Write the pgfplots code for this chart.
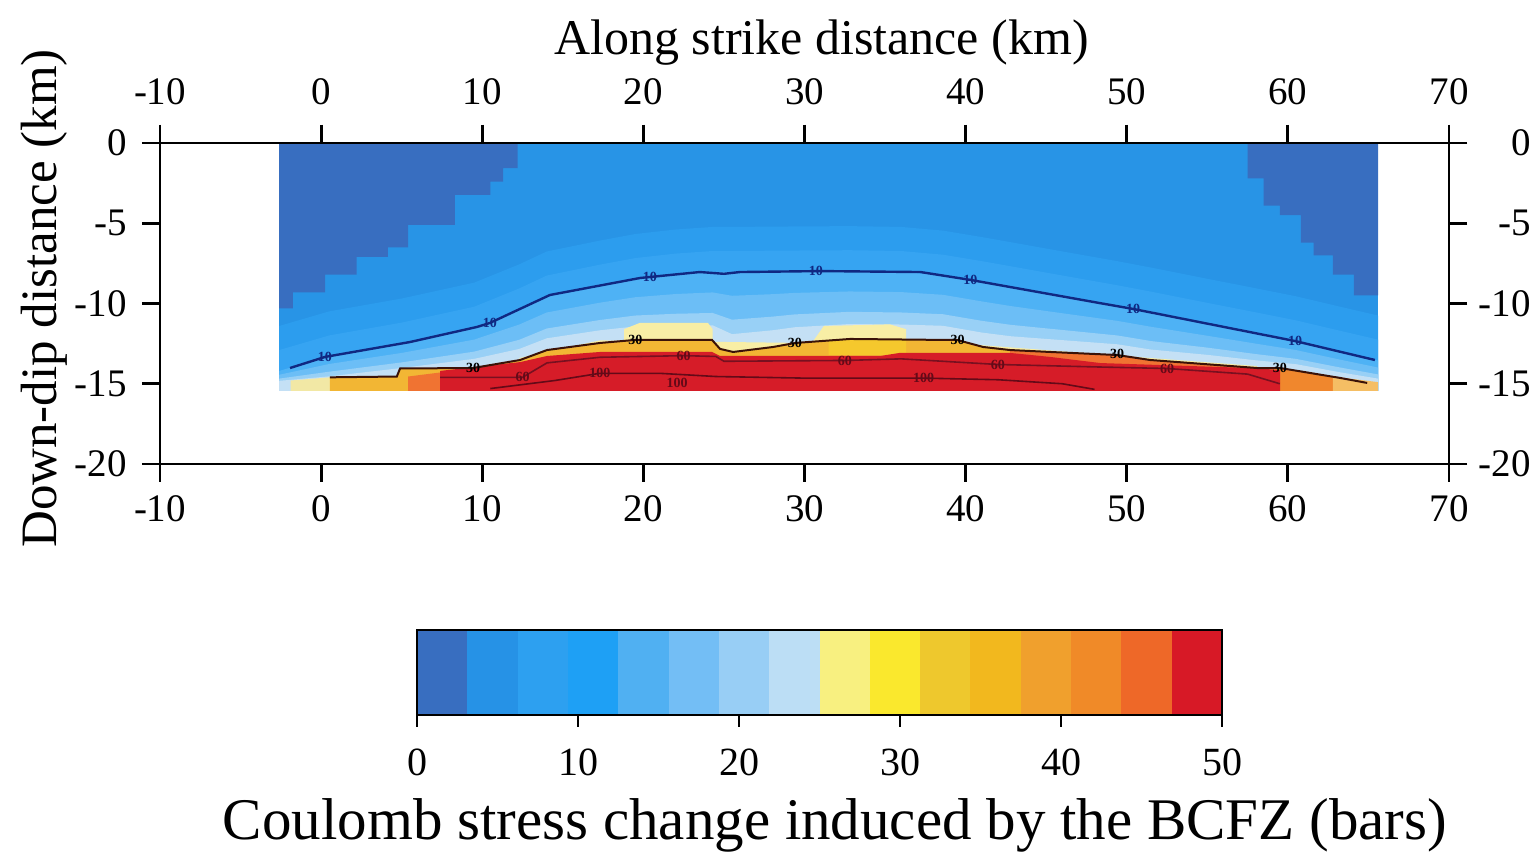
\documentclass[border=0pt]{standalone}
\usepackage{fontspec}
\setmainfont{Liberation Serif}
\usepackage{pgfplots}
\pgfplotsset{compat=1.18}
\definecolor{fbase}{RGB}{40,148,230}
\definecolor{fb1}{RGB}{44,157,238}
\definecolor{fb2}{RGB}{54,164,242}
\definecolor{fb3}{RGB}{78,178,245}
\definecolor{fb4}{RGB}{108,190,246}
\definecolor{fb5}{RGB}{152,208,246}
\definecolor{fb6}{RGB}{196,224,245}
\definecolor{fdark}{RGB}{56,110,192}
\definecolor{fyel}{RGB}{248,238,165}
\definecolor{foy}{RGB}{242,182,52}
\definecolor{fbrt}{RGB}{245,200,45}
\definecolor{fredor}{RGB}{240,115,50}
\definecolor{fred}{RGB}{214,28,40}
\definecolor{fpale}{RGB}{242,232,165}
\definecolor{fror}{RGB}{240,135,45}
\definecolor{flor}{RGB}{245,190,100}
\definecolor{cten}{RGB}{16,40,130}
\definecolor{cthirty}{RGB}{58,18,8}
\definecolor{csixty}{RGB}{120,16,32}
\definecolor{chund}{RGB}{100,10,24}
\definecolor{cb1}{RGB}{56,110,192}
\definecolor{cb2}{RGB}{38,146,230}
\definecolor{cb3}{RGB}{45,160,240}
\definecolor{cb4}{RGB}{30,160,245}
\definecolor{cb5}{RGB}{80,176,242}
\definecolor{cb6}{RGB}{115,190,245}
\definecolor{cb7}{RGB}{152,206,245}
\definecolor{cb8}{RGB}{188,222,245}
\definecolor{cb9}{RGB}{248,240,128}
\definecolor{cb10}{RGB}{250,232,45}
\definecolor{cb11}{RGB}{238,200,45}
\definecolor{cb12}{RGB}{242,184,30}
\definecolor{cb13}{RGB}{240,160,45}
\definecolor{cb14}{RGB}{240,138,40}
\definecolor{cb15}{RGB}{238,104,40}
\definecolor{cb16}{RGB}{215,25,38}
\pgfplotsset{
  frame/.style={
    scale only axis, width=644.5pt, height=160.5pt,
    at={(0pt,0pt)}, anchor=south west,
    xmin=-10, xmax=70, ymin=-20, ymax=0,
    xtick={-10,0,...,70}, ytick={-20,-15,...,0},
    tick align=outside, xtick pos=both, ytick pos=both,
    major tick length=9pt,
    axis line style={line width=1.4pt},
    every tick/.style={black, line width=1.4pt},
    tick label style={font=\fontsize{19.5}{19.5}\selectfont, inner sep=1pt},
    /pgf/number format/assume math mode=true,
  },
}
\newcommand{\clab}[4]{\node[font=\fontsize{7}{7}\selectfont\bfseries, text=#1, inner sep=0pt] at (axis cs:#2,#3) {#4};}
\begin{document}
\begin{tikzpicture}
\path (-80pt,-194pt) rectangle (688pt,232pt);
\begin{axis}[frame, axis on top,
  xticklabel pos=lower, yticklabel pos=left,
  xticklabel style={yshift=-5.5pt},
  yticklabel style={xshift=-6.5pt}]
% base
\addplot[fill=fbase, draw=none] coordinates {(-2.6,0)(65.6,0)(65.6,-15.45)(-2.6,-15.45)} -- cycle;
% dark triangles
\addplot[fill=fdark, draw=none] coordinates {(-2.6,0)(12.2,0)(12.2,-1.56)(11.3,-1.56)(11.3,-2.4)(10.5,-2.4)(10.5,-3.24)(8.3,-3.24)(8.3,-5.1)(5.4,-5.1)(5.4,-6.5)(4.15,-6.5)(4.15,-7.1)(2.2,-7.1)(2.2,-8.2)(0.25,-8.2)(0.25,-9.3)(-1.75,-9.3)(-1.75,-10.3)(-2.6,-10.3)} -- cycle;
\addplot[fill=fdark, draw=none] coordinates {(57.5,0)(65.6,0)(65.6,-9.5)(64.1,-9.5)(64.1,-8.2)(62.8,-8.2)(62.8,-7.0)(61.6,-7.0)(61.6,-6.2)(60.8,-6.2)(60.8,-4.5)(59.5,-4.5)(59.5,-3.9)(58.5,-3.9)(58.5,-2.2)(57.5,-2.2)} -- cycle;
% bands
\addplot[fill=fb1, draw=none] coordinates {(-2.6,-11.4)(0.5,-10.49)(5,-9.69)(9.5,-8.70)(12.3,-7.56)(14,-6.76)(17.3,-6.08)(19.5,-5.67)(22,-5.39)(24.3,-5.23)(25.5,-5.23)(28,-5.21)(29.4,-5.2)(32.8,-5.18)(36,-5.23)(38.6,-5.46)(41,-5.86)(42.8,-6.18)(45.3,-6.63)(49.4,-7.36)(51.5,-7.76)(55,-8.46)(58,-9.05)(60.5,-9.55)(63.2,-10.19)(65.6,-10.75)(65.6,-15.45)(-2.6,-15.45)} -- cycle;
\addplot[fill=fb2, draw=none] coordinates {(-2.6,-12.9)(0.5,-11.99)(5,-11.19)(9.5,-10.2)(12.3,-9.06)(14,-8.26)(17.3,-7.58)(19.5,-7.17)(22,-6.89)(24.3,-6.73)(25.5,-6.73)(28,-6.71)(29.4,-6.7)(32.8,-6.68)(36,-6.73)(38.6,-6.96)(41,-7.36)(42.8,-7.68)(45.3,-8.13)(49.4,-8.86)(51.5,-9.26)(55,-9.96)(58,-10.55)(60.5,-11.05)(63.2,-11.69)(65.6,-12.25)(65.6,-15.45)(-2.6,-15.45)} -- cycle;
\addplot[fill=fb3, draw=none] coordinates {(-2.6,-14.2)(0.5,-13.29)(5,-12.49)(9.5,-11.5)(12.3,-10.36)(14,-9.56)(17.3,-8.88)(19.5,-8.47)(22,-8.19)(24.3,-8.03)(25.5,-8.03)(28,-8.01)(29.4,-8.0)(32.8,-7.98)(36,-8.03)(38.6,-8.26)(41,-8.66)(42.8,-8.98)(45.3,-9.43)(49.4,-10.16)(51.5,-10.56)(55,-11.26)(58,-11.85)(60.5,-12.35)(63.2,-12.99)(65.6,-13.55)(65.6,-15.45)(-2.6,-15.45)} -- cycle;
\addplot[fill=fb4, draw=none] coordinates {(-2.6,-14.44)(0.5,-13.77)(5,-13.08)(9.5,-12.25)(12.3,-11.31)(14,-10.56)(17.3,-9.95)(19.5,-9.61)(22,-9.41)(24.3,-9.31)(25.5,-9.52)(28,-9.42)(29.4,-9.34)(32.8,-9.25)(36,-9.29)(38.6,-9.46)(41,-9.87)(42.8,-10.16)(45.3,-10.51)(49.4,-11.08)(51.5,-11.45)(55,-12.01)(58,-12.5)(60.5,-12.9)(63.2,-13.49)(65.6,-13.99)(65.6,-15.45)(-2.6,-15.45)} -- cycle;
\addplot[fill=fb5, draw=none] coordinates {(-2.6,-14.68)(0.5,-14.25)(5,-13.67)(9.5,-13.0)(12.3,-12.26)(14,-11.56)(17.3,-11.03)(19.5,-10.75)(22,-10.64)(24.3,-10.59)(25.5,-11.01)(28,-10.82)(29.4,-10.68)(32.8,-10.52)(36,-10.56)(38.6,-10.67)(41,-11.08)(42.8,-11.33)(45.3,-11.58)(49.4,-11.99)(51.5,-12.34)(55,-12.75)(58,-13.15)(60.5,-13.45)(63.2,-13.98)(65.6,-14.42)(65.6,-15.45)(-2.6,-15.45)} -- cycle;
\addplot[fill=fb6, draw=none] coordinates {(-2.6,-14.82)(0.5,-14.54)(5,-14.02)(9.5,-13.45)(12.3,-12.83)(14,-12.17)(17.3,-11.67)(19.5,-11.43)(22,-11.37)(24.3,-11.36)(25.5,-11.91)(28,-11.67)(29.4,-11.48)(32.8,-11.28)(36,-11.31)(38.6,-11.39)(41,-11.81)(42.8,-12.04)(45.3,-12.23)(49.4,-12.54)(51.5,-12.87)(55,-13.2)(58,-13.54)(60.5,-13.78)(63.2,-14.28)(65.6,-14.68)(65.6,-15.45)(-2.6,-15.45)} -- cycle;
% yellow bumps above the 30 contour
\addplot[fill=fyel, draw=none] coordinates {(18.8,-12.3)(18.8,-11.6)(19.8,-11.2)(24.0,-11.2)(24.3,-11.6)(24.3,-12.3)} -- cycle;
\addplot[fill=fyel, draw=none] coordinates {(30.5,-12.4)(31.2,-11.4)(35.3,-11.3)(36.3,-11.6)(36.3,-12.3)} -- cycle;
\addplot[fill=fyel, draw=none] coordinates {(12.3,-13.4)(17.3,-12.3)(41,-12.6)(51.5,-13.4)(58.1,-13.9)(58.1,-14.2)(12.3,-14.2)} -- cycle;
% below the 30 contour
\addplot[fill=fpale, draw=none] coordinates {(-1.9,-15.45)(-1.9,-14.8)(0.55,-14.6)(0.55,-15.45)} -- cycle;
\addplot[fill=foy, draw=none] coordinates {(0.55,-15.45)(0.55,-14.6)(4.7,-14.55)(4.9,-14.05)(9.43,-14.02)(12.35,-13.52)(14.02,-12.90)(17.31,-12.46)(19.48,-12.27)(24.26,-12.27)(24.76,-12.83)(25.57,-13.02)(28.05,-12.71)(29.42,-12.46)(32.83,-12.21)(38.60,-12.27)(39.47,-12.27)(41.09,-12.71)(42.76,-12.90)(45.25,-13.02)(49.40,-13.21)(51.45,-13.52)(58.09,-14.02)(59.52,-14.02)(63.25,-14.64)(64.92,-14.95)(64.92,-15.45)} -- cycle;
\addplot[fill=fbrt, draw=none] coordinates {(31.5,-12.3)(36.3,-12.24)(36.3,-13.2)(31.5,-13.2)} -- cycle;
\addplot[fill=fredor, draw=none] coordinates {(5.4,-15.45)(5.4,-14.55)(7.38,-14.3)(7.38,-15.45)} -- cycle;
\addplot[fill=fredor, draw=none] coordinates {(42.76,-12.95)(45.25,-13.02)(49.40,-13.21)(51.45,-13.52)(58.09,-14.02)(58.09,-14.3)(42.76,-14.3)} -- cycle;
\addplot[fill=fror, draw=none] coordinates {(59.52,-15.45)(59.52,-14.02)(62.8,-14.55)(62.8,-15.45)} -- cycle;
\addplot[fill=flor, draw=none] coordinates {(62.8,-15.45)(62.8,-14.55)(65.6,-14.9)(65.6,-15.45)} -- cycle;
% red core
\addplot[fill=fred, draw=none] coordinates {(7.38,-15.45)(7.38,-14.2)(12.35,-13.65)(14.02,-13.27)(17.31,-13.02)(24.26,-13.02)(24.76,-13.27)(34.7,-13.27)(35.9,-13.08)(42.76,-13.08)(45.25,-13.33)(48.35,-13.71)(57.66,-14.02)(59.52,-14.14)(59.52,-15.45)} -- cycle;
% contours
\addplot[cten, line width=1.2pt] coordinates {(-1.93,-14.02)(0.24,-13.33)(5.52,-12.4)(9.68,-11.46)(10.48,-11.21)(14.2,-9.47)(19.8,-8.41)(23.5,-8.04)(25,-8.15)(26,-8.04)(31.0,-7.98)(37.2,-8.04)(40.3,-8.53)(48.3,-9.97)(50.4,-10.34)(60.45,-12.34)(65.4,-13.52)};
\addplot[cthirty, line width=1pt] coordinates {(0.55,-14.6)(4.7,-14.55)(4.9,-14.05)(9.43,-14.02)(12.35,-13.52)(14.02,-12.90)(17.31,-12.46)(19.48,-12.27)(24.26,-12.27)(24.76,-12.83)(25.57,-13.02)(28.05,-12.71)(29.42,-12.46)(32.83,-12.21)(38.60,-12.27)(39.47,-12.27)(41.09,-12.71)(42.76,-12.90)(45.25,-13.02)(49.40,-13.21)(51.45,-13.52)(58.09,-14.02)(59.52,-14.02)(63.25,-14.64)(64.92,-14.95)};
\addplot[csixty, line width=0.8pt] coordinates {(7.38,-14.6)(12.5,-14.6)(14.02,-13.7)(17.31,-13.35)(22.5,-13.25)(24.5,-13.3)(25,-13.6)(32.5,-13.55)(36,-13.45)(42,-13.8)(48,-13.95)(52.5,-14.05)(57.5,-14.4)(59.5,-15.0)};
\addplot[chund, line width=0.8pt] coordinates {(10.5,-15.3)(14.5,-14.8)(17.3,-14.35)(21,-14.35)(24.5,-14.55)(30,-14.65)(37.4,-14.65)(42,-14.75)(46,-15.0)(48,-15.35)};
% contour labels
\clab{cten}{0.24}{-13.33}{10}
\clab{cten}{10.48}{-11.21}{10}
\clab{cten}{20.4}{-8.35}{10}
\clab{cten}{30.7}{-7.95}{10}
\clab{cten}{40.3}{-8.53}{10}
\clab{cten}{50.4}{-10.34}{10}
\clab{cten}{60.45}{-12.34}{10}
\clab{black}{9.43}{-14.02}{30}
\clab{black}{19.5}{-12.27}{30}
\clab{black}{29.4}{-12.46}{30}
\clab{black}{39.5}{-12.27}{30}
\clab{black}{49.4}{-13.15}{30}
\clab{black}{59.5}{-14.02}{30}
\clab{chund}{12.5}{-14.6}{60}
\clab{chund}{22.5}{-13.25}{60}
\clab{chund}{32.5}{-13.55}{60}
\clab{chund}{42}{-13.8}{60}
\clab{chund}{52.5}{-14.05}{60}
\clab{chund}{17.3}{-14.35}{100}
\clab{chund}{22.1}{-14.95}{100}
\clab{chund}{37.4}{-14.65}{100}
\end{axis}
\begin{axis}[frame,
  xticklabel pos=upper, yticklabel pos=right,
  xticklabel style={yshift=9pt},
  yticklabel style={anchor=east, xshift=33pt}]
\end{axis}
% colour bar
\begin{axis}[
  at={(128.5pt,-125.5pt)}, anchor=south west,
  scale only axis, width=402.5pt, height=42.5pt,
  xmin=0, xmax=50, ymin=0, ymax=1,
  xtick={0,10,...,50}, ytick=\empty,
  tick align=outside, xtick pos=lower,
  major tick length=6pt,
  axis line style={line width=1.4pt},
  every tick/.style={black, line width=1.4pt},
  tick label style={font=\fontsize{20}{20}\selectfont, inner sep=1pt},
  xticklabel style={yshift=-9.7pt},
  /pgf/number format/assume math mode=true,
  axis on top]
\addplot[fill=cb1, draw=none] coordinates {(0,0)(3.125,0)(3.125,1)(0,1)} -- cycle;
\addplot[fill=cb2, draw=none] coordinates {(3.125,0)(6.25,0)(6.25,1)(3.125,1)} -- cycle;
\addplot[fill=cb3, draw=none] coordinates {(6.25,0)(9.375,0)(9.375,1)(6.25,1)} -- cycle;
\addplot[fill=cb4, draw=none] coordinates {(9.375,0)(12.5,0)(12.5,1)(9.375,1)} -- cycle;
\addplot[fill=cb5, draw=none] coordinates {(12.5,0)(15.625,0)(15.625,1)(12.5,1)} -- cycle;
\addplot[fill=cb6, draw=none] coordinates {(15.625,0)(18.75,0)(18.75,1)(15.625,1)} -- cycle;
\addplot[fill=cb7, draw=none] coordinates {(18.75,0)(21.875,0)(21.875,1)(18.75,1)} -- cycle;
\addplot[fill=cb8, draw=none] coordinates {(21.875,0)(25,0)(25,1)(21.875,1)} -- cycle;
\addplot[fill=cb9, draw=none] coordinates {(25,0)(28.125,0)(28.125,1)(25,1)} -- cycle;
\addplot[fill=cb10, draw=none] coordinates {(28.125,0)(31.25,0)(31.25,1)(28.125,1)} -- cycle;
\addplot[fill=cb11, draw=none] coordinates {(31.25,0)(34.375,0)(34.375,1)(31.25,1)} -- cycle;
\addplot[fill=cb12, draw=none] coordinates {(34.375,0)(37.5,0)(37.5,1)(34.375,1)} -- cycle;
\addplot[fill=cb13, draw=none] coordinates {(37.5,0)(40.625,0)(40.625,1)(37.5,1)} -- cycle;
\addplot[fill=cb14, draw=none] coordinates {(40.625,0)(43.75,0)(43.75,1)(40.625,1)} -- cycle;
\addplot[fill=cb15, draw=none] coordinates {(43.75,0)(46.875,0)(46.875,1)(43.75,1)} -- cycle;
\addplot[fill=cb16, draw=none] coordinates {(46.875,0)(50,0)(50,1)(46.875,1)} -- cycle;
\end{axis}
% titles
\node[anchor=base, font=\fontsize{25}{25}\selectfont, inner sep=0pt] at (330.75pt,204.5pt) {Along strike distance (km)};
\node[anchor=base, rotate=90, font=\fontsize{25.5}{25.5}\selectfont, inner sep=0pt] at (-51.5pt,82.75pt) {Down-dip distance (km)};
\node[anchor=base, font=\fontsize{29.5}{29.5}\selectfont, inner sep=0pt] at (337.5pt,-188pt) {Coulomb stress change induced by the BCFZ (bars)};
\end{tikzpicture}
\end{document}
